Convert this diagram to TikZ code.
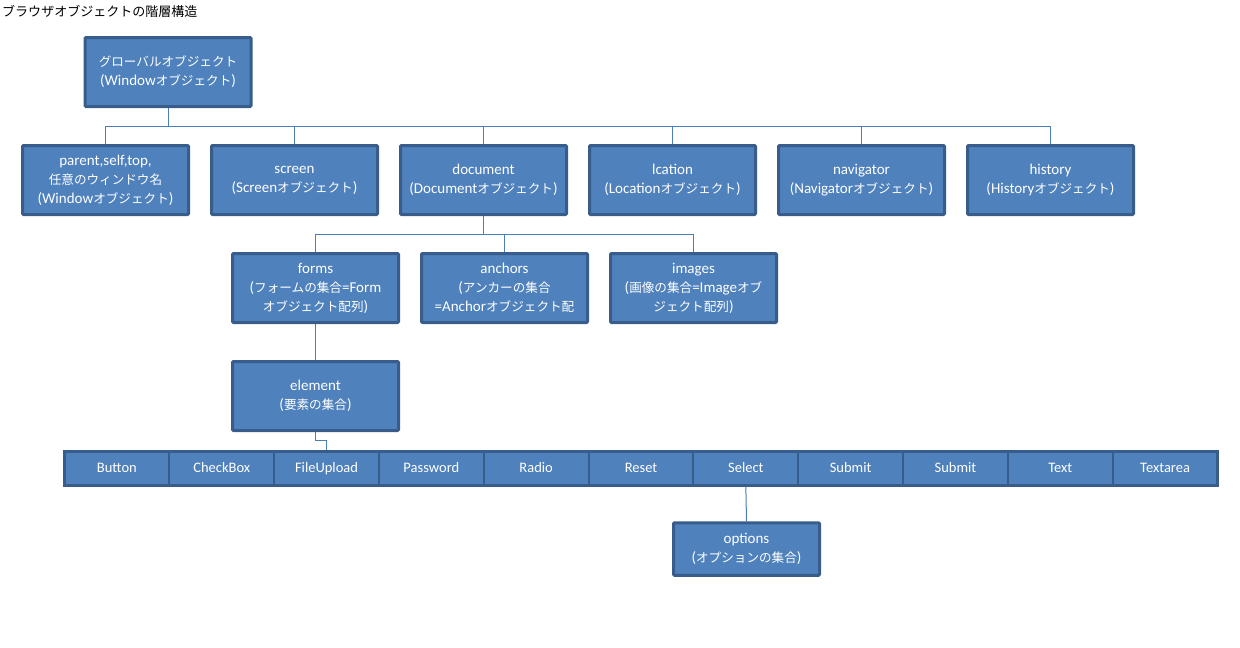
\documentclass[tikz,border=0pt]{standalone}
\usepackage{fontspec}
\setmainfont{Carlito}
\newfontfamily\jpfont[Scale=0.84]{Noto Sans CJK JP}
\newcommand\jtxt[1]{{\jpfont #1}}
\usetikzlibrary{backgrounds}
\definecolor{boxfill}{HTML}{4F81BD}
\definecolor{boxedge}{HTML}{385D8A}
\definecolor{linkc}{HTML}{4A7EBB}
\tikzset{
  objbox/.style={draw=boxedge, fill=boxfill, line width=3pt, minimum width=166pt,
    minimum height=69pt, text=white, align=center, inner sep=0pt,
    rounded corners=1pt, font=\fontsize{15}{19}\selectfont},
  cell/.style={draw=boxedge, fill=boxfill, line width=2pt, minimum width=104.82pt,
    minimum height=34pt, text=white, inner sep=0pt, outer sep=0pt,
    text height=10pt, text depth=3pt, font=\fontsize{14.5}{19}\selectfont},
  rowframe/.style={draw=boxedge, line width=3pt},
  link/.style={draw=linkc, line width=1pt},
  titletext/.style={anchor=west, inner sep=0pt, font=\jpfont\fontsize{15.5}{17}\selectfont},
}
\begin{document}
\begin{tikzpicture}[x=1pt,y=-1pt]
\useasboundingbox (0,0) rectangle (1240,648);

\node[titletext] (title) at (2,11) {ブラウザオブジェクトの階層構造};

\node[objbox] (root) at (168,72) {\jtxt{グローバルオブジェクト}\\(Window\jtxt{オブジェクト})};

\node[objbox] (parent) at (105.5,180) {parent,self,top,\\\jtxt{任意のウィンドウ名}\\(Window\jtxt{オブジェクト})};
\node[objbox] (screen) at (294.5,180) {screen\\(Screen\jtxt{オブジェクト})};
\node[objbox] (document) at (483.5,180) {document\\(Document\jtxt{オブジェクト})};
\node[objbox] (location) at (672.5,180) {lcation\\(Location\jtxt{オブジェクト})};
\node[objbox] (navigator) at (861.5,180) {navigator\\(Navigator\jtxt{オブジェクト})};
\node[objbox] (history) at (1050.5,180) {history\\(History\jtxt{オブジェクト})};

\node[objbox] (forms) at (315.5,288) {forms\\(\jtxt{フォームの集合}=Form\\\jtxt{オブジェクト配列})};
\node[objbox] (anchors) at (504.5,288) {anchors\\(\jtxt{アンカーの集合}\\=Anchor\jtxt{オブジェクト配}};
\node[objbox] (images) at (693.5,288) {images\\(\jtxt{画像の集合}=Image\jtxt{オブ}\\\jtxt{ジェクト配列})};

\node[objbox] (element) at (315.5,396) {element\\(\jtxt{要素の集合})};

\foreach \lbl [count=\i] in {Button,CheckBox,FileUpload,Password,Radio,Reset,Select,Submit,Submit,Text,Textarea}
  \node[cell] (b\i) at ({64.5+104.82*(\i-0.5)},468.5) {\lbl};
\draw[rowframe] (b1.north west) rectangle (b11.south east);

\node[objbox, minimum width=146pt, minimum height=52.5pt] (options) at (746.5,549) {options\\(\jtxt{オプションの集合})};

\begin{scope}[on background layer]
  \foreach \n in {parent,screen,document,location,navigator,history}
    \draw[link] (root.south) -- ++(0,18) -| (\n.north);
  \foreach \n in {forms,anchors,images}
    \draw[link] (document.south) -- ++(0,18) -| (\n.north);
  \draw[link] (forms.south) -- (element.north);
  \draw[link] (element.south) -- ++(0,8) -| (b3.north);
  \draw[link] (b7.south) -- (options.north);
\end{scope}
\end{tikzpicture}
\end{document}
